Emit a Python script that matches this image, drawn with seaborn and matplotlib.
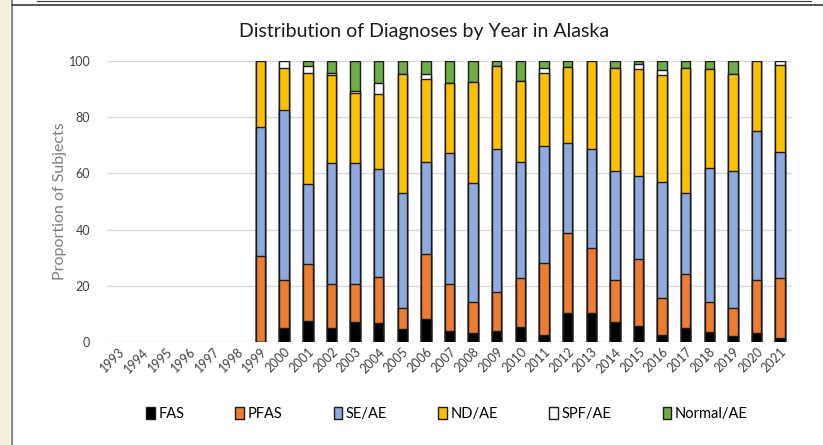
import matplotlib
matplotlib.use("Agg")
import matplotlib.pyplot as plt
import matplotlib.patches as mpatches
import matplotlib.lines as mlines
import numpy as np
import pandas as pd
import seaborn as sns

years = [str(y) for y in range(1993, 2022)]
data_years = [str(y) for y in range(1999, 2022)]

fas    = [0.0, 5.0, 7.5, 5.0, 7.1, 6.8, 4.4, 8.0, 3.8, 3.2, 3.8, 5.2, 2.4, 10.1, 10.3, 7.1, 5.6, 2.4, 5.0, 3.6, 2.0, 3.0, 1.4]
pfas   = [30.7, 17.0, 20.2, 15.6, 13.5, 16.1, 7.7, 23.3, 16.7, 10.8, 14.0, 17.5, 25.8, 28.5, 23.0, 14.9, 23.9, 13.3, 19.1, 10.4, 10.1, 19.0, 21.2]
se_ae  = [46.0, 60.6, 28.5, 43.3, 43.3, 38.7, 40.8, 32.9, 46.7, 42.5, 51.0, 41.5, 41.7, 32.4, 35.3, 38.9, 29.6, 41.1, 28.8, 47.8, 48.9, 53.3, 44.9]
nd_ae  = [23.3, 14.9, 39.5, 31.3, 24.7, 26.9, 42.6, 29.6, 25.1, 36.2, 29.5, 28.7, 25.9, 27.1, 31.4, 36.8, 38.0, 38.2, 44.6, 35.3, 34.4, 24.7, 31.1]
spf_ae = [0.0, 2.5, 2.8, 0.5, 0.9, 3.7, 0.0, 1.7, 0.0, 0.0, 0.0, 0.0, 1.7, 0.0, 0.0, 0.0, 1.9, 1.9, 0.0, 0.0, 0.0, 0.0, 1.4]
normal = [0.0, 0.0, 1.5, 4.3, 10.5, 7.8, 4.5, 4.5, 7.7, 7.3, 1.7, 7.1, 2.5, 1.9, 0.0, 2.3, 1.0, 3.1, 2.5, 2.9, 4.6, 0.0, 0.0]

series_names = ["FAS", "PFAS", "SE/AE", "ND/AE", "SPF/AE", "Normal/AE"]
series_vals = [fas, pfas, se_ae, nd_ae, spf_ae, normal]
colors = ["#000000", "#ED7D31", "#8FAADC", "#FFC000", "#FFFFFF", "#70AD47"]

font = "Lato"
fig = plt.figure(figsize=(8.23, 4.45), dpi=100)
ax = fig.add_axes([107/823, 1-341.7/445, (792-107)/823, (341.7-61.3)/445])

cum = np.cumsum(np.array(series_vals), axis=0)
# draw from top layer down so lower segments overlay upper ones
for i in range(len(series_names) - 1, -1, -1):
    df = pd.DataFrame({"year": data_years, "value": cum[i]})
    sns.barplot(data=df, x="year", y="value", order=years, color=colors[i],
                saturation=1, width=0.4, edgecolor="#1a1a1a", linewidth=1.0,
                ax=ax, zorder=3, errorbar=None)

ax.set_ylim(0, 100)
ax.set_xlim(-0.5, len(years) - 0.5)
ax.set_yticks(np.arange(0, 101, 20))
ax.yaxis.grid(True, color="#d9d9d9", linewidth=1.0, zorder=0)
ax.xaxis.grid(False)
ax.set_axisbelow(True)
for s in ax.spines.values():
    s.set_visible(False)
ax.tick_params(axis="both", length=0, colors="#404040", labelsize=9)
ax.tick_params(axis="y", pad=12)
for lab in ax.get_yticklabels():
    lab.set_fontfamily(font)
ax.set_xticks(range(len(years)))
ax.set_xticklabels(years, rotation=45, ha="right", rotation_mode="anchor",
                   fontfamily=font, fontsize=9, color="#404040")
ax.tick_params(axis="x", pad=3)
ax.set_xlabel("")
ax.set_ylabel("Proportion of Subjects", fontfamily=font, fontsize=11.5,
              color="#7f7f7f", labelpad=1)

fig.text(424/823, 1 - 31/445, "Distribution of Diagnoses by Year in Alaska",
         ha="center", va="center", fontfamily=font, fontsize=14, color="#1a1a1a")

handles = [mpatches.Patch(facecolor=c, edgecolor="#1a1a1a", linewidth=1.0, label=n)
           for c, n in zip(colors, series_names)]
leg = fig.legend(handles=handles, loc="center", bbox_to_anchor=(447/823, 1 - 414/445),
                 ncol=6, frameon=False, handlelength=0.6, handleheight=0.8,
                 handletextpad=0.25, columnspacing=3.5,
                 prop={"family": font, "size": 10.5})

# slide frame decorations
fig.add_artist(mpatches.Rectangle((0, 0), 10/823, 1, transform=fig.transFigure,
                                  facecolor="#f6f0da", edgecolor="none"))
fig.add_artist(mlines.Line2D([11.5/823, 11.5/823], [0, 1], transform=fig.transFigure,
                             color="#8a8a8a", linewidth=1.5))
fig.add_artist(mlines.Line2D([12/823, 1], [1 - 4.5/445, 1 - 4.5/445], transform=fig.transFigure,
                             color="#3a3a3a", linewidth=1.2))
fig.add_artist(mlines.Line2D([37/823, 811/823], [1 - 1/445, 1 - 1/445], transform=fig.transFigure,
                             color="#3a3a3a", linewidth=0.8))

fig.savefig("out.png", dpi=100, facecolor="white")
